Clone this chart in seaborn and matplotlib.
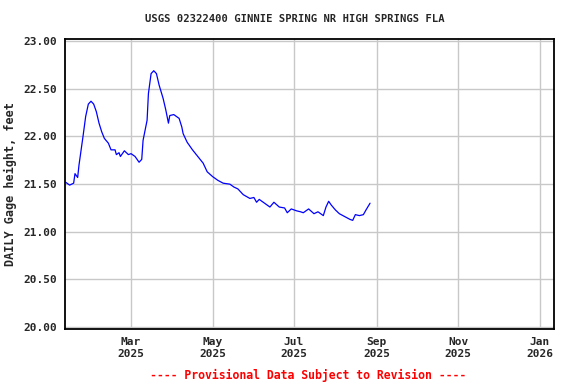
import pandas as pd
import matplotlib
matplotlib.use("Agg")
import matplotlib.pyplot as plt
import matplotlib.dates as mdates
import seaborn as sns

# Daily gage height readings
dates = [
    "2025-01-11", "2025-01-14", "2025-01-17", "2025-01-18", "2025-01-20", "2025-01-21",
    "2025-01-24", "2025-01-26", "2025-01-28", "2025-01-30", "2025-02-01", "2025-02-03",
    "2025-02-05", "2025-02-07", "2025-02-09", "2025-02-12", "2025-02-14", "2025-02-17",
    "2025-02-18", "2025-02-20", "2025-02-21", "2025-02-24", "2025-02-27", "2025-03-01",
    "2025-03-04", "2025-03-07", "2025-03-09", "2025-03-10", "2025-03-11", "2025-03-13",
    "2025-03-14", "2025-03-16", "2025-03-18", "2025-03-20", "2025-03-22", "2025-03-25",
    "2025-03-27", "2025-03-29", "2025-03-30", "2025-04-02", "2025-04-06", "2025-04-08",
    "2025-04-09", "2025-04-12", "2025-04-16", "2025-04-20", "2025-04-24", "2025-04-27",
    "2025-05-01", "2025-05-05", "2025-05-09", "2025-05-14", "2025-05-17", "2025-05-20",
    "2025-05-24", "2025-05-29", "2025-06-01", "2025-06-03", "2025-06-05", "2025-06-09",
    "2025-06-13", "2025-06-16", "2025-06-20", "2025-06-24", "2025-06-26", "2025-06-29",
    "2025-07-03", "2025-07-06", "2025-07-08", "2025-07-12", "2025-07-16", "2025-07-19",
    "2025-07-23", "2025-07-25", "2025-07-27", "2025-07-29", "2025-08-01", "2025-08-04",
    "2025-08-08", "2025-08-12", "2025-08-14", "2025-08-16", "2025-08-19", "2025-08-22",
    "2025-08-24", "2025-08-27",
]
gage_height = [
    21.52, 21.49, 21.51, 21.61, 21.57, 21.70,
    22.00, 22.21, 22.34, 22.37, 22.34, 22.26,
    22.14, 22.05, 21.98, 21.93, 21.86, 21.86,
    21.81, 21.83, 21.79, 21.85, 21.81, 21.82,
    21.79, 21.73, 21.76, 21.96, 22.03, 22.17,
    22.45, 22.66, 22.69, 22.66, 22.54, 22.40,
    22.28, 22.14, 22.22, 22.23, 22.19, 22.10,
    22.03, 21.94, 21.86, 21.79, 21.72, 21.63,
    21.58, 21.54, 21.51, 21.50, 21.47, 21.45,
    21.39, 21.35, 21.36, 21.31, 21.34, 21.30,
    21.26, 21.31, 21.26, 21.25, 21.20, 21.24,
    21.22, 21.21, 21.20, 21.24, 21.19, 21.21,
    21.17, 21.26, 21.32, 21.28, 21.23, 21.19,
    21.16, 21.13, 21.12, 21.18, 21.17, 21.18,
    21.23, 21.30,
]

y_ticks = [20.0, 20.5, 21.0, 21.5, 22.0, 22.5, 23.0]
x_ticks = ["2025-03-01", "2025-05-01", "2025-07-01", "2025-09-01", "2025-11-01", "2026-01-01"]

df = pd.DataFrame({"date": pd.to_datetime(dates), "height": gage_height})

sns.set_style("white")
plt.rcParams["font.family"] = ["DejaVu Sans Mono"]
plt.rcParams["font.weight"] = "bold"

fig = plt.figure(figsize=(5.76, 3.84), dpi=100)
ax = fig.add_axes([0.1128, 0.1432, 0.8495, 0.7545])

sns.lineplot(data=df, x="date", y="height", ax=ax, color="#0000ff", linewidth=0.9)

ax.set_xlim(pd.Timestamp("2025-01-10 12:00"), pd.Timestamp("2026-01-12"))
ax.set_ylim(19.98, 23.02)
ax.set_yticks(y_ticks)
ax.set_yticklabels([f"{v:.2f}" for v in y_ticks])
ax.set_xticks(pd.to_datetime(x_ticks))
ax.xaxis.set_major_formatter(mdates.DateFormatter("%b\n%Y"))
ax.tick_params(axis="both", length=0, pad=6, labelsize=8)
for lbl in ax.get_xticklabels() + ax.get_yticklabels():
    lbl.set_fontweight("bold")

ax.grid(True, color="#c8c8c8", linewidth=1)
for s in ax.spines.values():
    s.set_color("black")
    s.set_linewidth(1.3)

ax.set_xlabel("")
ax.set_ylabel("DAILY Gage height, feet", fontsize=8.6, fontweight="bold", labelpad=4)
fig.text(0.512, 0.951, "USGS 02322400 GINNIE SPRING NR HIGH SPRINGS FLA",
         ha="center", va="center", fontsize=7.6, fontweight="bold")
fig.text(0.535, 0.023, "---- Provisional Data Subject to Revision ----",
         ha="center", va="center", fontsize=8.3, fontweight="bold", color="red")

fig.savefig("out.png", dpi=100)
